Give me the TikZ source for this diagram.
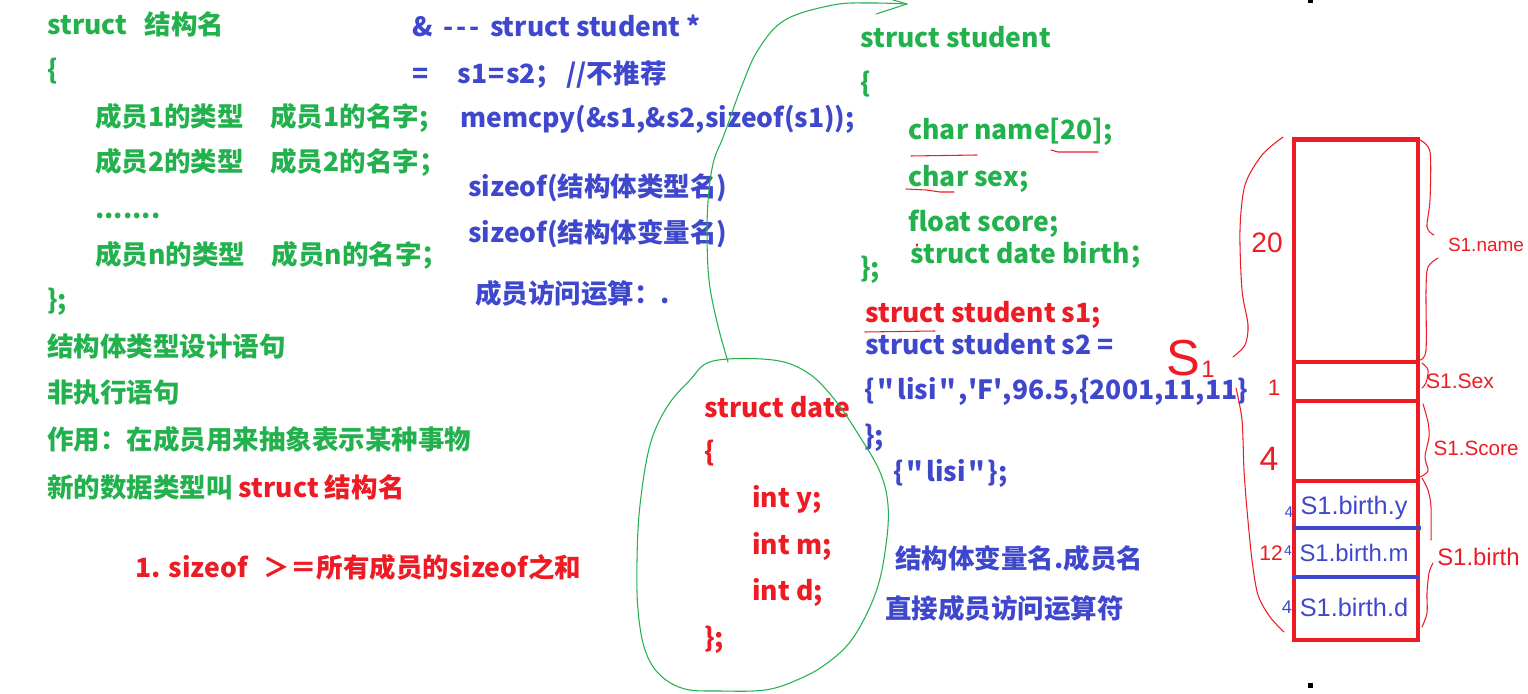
\documentclass[tikz,border=0pt]{standalone}
\usepackage{fontspec}
\setmainfont{Noto Sans CJK SC}
\newfontfamily\hand{Liberation Sans}
\definecolor{cg}{RGB}{34,177,76}
\definecolor{cb}{RGB}{63,72,204}
\definecolor{cr}{RGB}{237,28,36}
\tikzset{
  txt/.style={anchor=base west, inner sep=0pt, font=\bfseries\fontsize{18.85pt}{22pt}\selectfont},
  gr/.style={txt, text=cg},
  bl/.style={txt, text=cb},
  rd/.style={txt, text=cr},
  hw/.style={inner sep=0pt, font=\hand\fontsize{#1}{#1}\selectfont},
  pen/.style={line width=0.75pt, line cap=round, line join=round},
  redbox/.style={line width=3.2pt, draw=cr},
  bluebar/.style={line width=3.2pt, draw=cb}
}
\newcommand{\qq}{\kern2pt\textquotedbl\kern2pt}
\begin{document}
\begin{tikzpicture}[x=0.025cm, y=-0.025cm]
\useasboundingbox (0,0) rectangle (1528,694);
% ---------- left column ----------
\node[gr] (a1) at (47,35) {struct\hspace{0.65em}结构名};
\node[gr] (a2) at (47,80) {\{};
\node[gr] (a3) at (95,127) {成员1的类型\hspace{1em}成员1的名字;};
\node[gr] (a4) at (95,172) {成员2的类型\hspace{1em}成员2的名字；};
\node[gr] (a5) at (95,219) {.......};
\node[gr] (a6) at (95,265) {成员n的类型\hspace{1em}成员n的名字；};
\node[gr] (a7) at (47,310) {\};};
\node[gr] (a8) at (47,357) {结构体类型设计语句};
\node[gr] (a9) at (47,403) {非执行语句};
\node[gr] (a10) at (47,450) {作用：在成员用来抽象表示某种事物};
\node[gr] (a11) at (47,498) {新的数据类型叫 \textcolor{cr}{struct 结构名}};
\node[rd] (a12) at (135,578) {1. sizeof\hspace{0.6em}＞＝所有成员的sizeof之和};
% ---------- middle column ----------
\node[bl] (b1) at (412,37) {\&\hspace{0.4em}-\kern2pt-\kern2pt-\hspace{0.4em}struct student *};
\node[bl] (b2) at (412,84) {=\hspace{1.1em}s1\kern1pt=\kern1pt s2；\kern3pt//不推荐};
\node[bl] (b3) at (460,128) {memcpy(\&s1,\&s2,sizeof(s1));};
\node[bl] (b4) at (468,197) {sizeof(结构体类型名)};
\node[bl] (b5) at (468,243) {sizeof(结构体变量名)};
\node[bl] (b6) at (475,304) {成员访问运算：.};
% ---------- struct student ----------
\node[gr] (c1) at (860,48) {struct student};
\node[gr] (c2) at (860,93) {\{};
\node[gr] (c3) at (908,140) {char name[20];};
\node[gr] (c4) at (908,187) {char sex;};
\node[gr] (c5) at (908,232) {float score;};
\node[gr] (c6) at (910,264) {struct date birth；};
\node[gr] (c7) at (860,278) {\};};
\node[rd] (d1) at (865,323) {struct student s1;};
\node[bl] (d2) at (865,355) {struct student s2 =};
\node[bl, text height=14pt] (d3) at (864,400) {\{\qq lisi\qq,\textquotesingle F\textquotesingle,96.5,\{2001,11,11\}};
\node[bl] (d4) at (864,446) {\};};
\node[bl] (d5) at (893,482) {\{\qq lisi\qq\};};
\node[bl] (d6) at (895,569) {结构体变量名.成员名};
\node[bl] (d7) at (885,619) {直接成员访问运算符};
% ---------- struct date (circled) ----------
\node[rd] (e1) at (704,418) {struct date};
\node[rd] (e2) at (704,462) {\{};
\node[rd] (e3) at (752,508) {int y;};
\node[rd] (e4) at (752,555) {int m;};
\node[rd] (e5) at (752,601) {int d;};
\node[rd] (e6) at (704,647) {\};};
% green circle and link
\draw[pen, cg] plot[smooth cycle, tension=0.6] coordinates {(713,361) (773,360) (808,373) (835,400) (860,437) (880,472) (888,505) (886,545) (876,592) (853,638) (826,664) (797,680) (765,690) (720,691) (685,689) (660,675) (645,650) (638,610) (637,560) (640,505) (650,445) (667,407) (690,380)};
\coordinate (cs) at (728,362);
\coordinate (ce) at (907,4);
\draw[pen, cg] plot[smooth, tension=0.6] coordinates {(cs) (717,322) (709,280) (707,230) (709,190) (714,160) (724,135) (741,88) (758,50) (785,20) (833,5) (870,3) (ce)};
\draw[pen, cg] (893,0) -- (ce) -- (876,14);
% red underlines
\draw[pen, cr] (865,332) -- (935,331);
\draw[pen, cr] (911,156) -- (977,155);
\draw[pen, cr] (1051,150) -- (1058,152) -- (1098,152);
\draw[pen, cr] (906,189) -- (926,190) -- (940,192) -- (954,192);
\draw[pen, cr] (917,244) -- (917,246);
% ---------- memory layout ----------
\draw[redbox] (1294,139.5) rectangle (1418,640);
\draw[redbox] (1294,362) -- (1418,362);
\draw[redbox] (1294,401) -- (1416,401);
\draw[redbox] (1294,481) -- (1418,481);
\draw[bluebar] (1293,528) -- (1421,528);
\draw[bluebar] (1292,577) -- (1419,577);
% braces
\draw[pen, cr] plot[smooth] coordinates {(1283,137) (1262,155) (1245,185) (1240,230) (1242,290) (1248,325) (1245,345) (1233,357)};
\draw[pen, cr] plot[smooth] coordinates {(1236,388) (1242,420) (1244,470) (1247,510) (1252,560) (1258,595) (1270,617) (1284,632)};
\draw[pen, cr] plot[smooth] coordinates {(1420,140) (1430,152) (1430,200) (1427,227) (1434,235)};
\draw[pen, cr] plot[smooth] coordinates {(1438,258) (1428,267) (1426,290) (1426,350) (1420,360)};
\draw[pen, cr] plot[smooth] coordinates {(1422,363) (1428,370) (1426,383) (1422,388)};
\draw[pen, cr] plot[smooth] coordinates {(1423,404) (1428,422) (1429,437) (1425,457) (1428,471) (1420,477)};
\draw[pen, cr] plot[smooth] coordinates {(1422,478) (1428,490) (1431,507) (1431,540)};
\draw[pen, cr] plot[smooth] coordinates {(1433,563) (1429,573) (1427,593) (1427,613) (1422,627)};
% handwritten labels
\node[hw=13.5pt, text=cr] (h1) at (1486,245) {S1.name};
\node[hw=15pt, text=cr] (h2) at (1460,381) {S1.Sex};
\node[hw=14.7pt, text=cr] (h3) at (1476,448) {S1.Score};
\node[hw=17pt, text=cr, anchor=west] (h4) at (1437,557) {S1.birth};
\node[hw=18pt, text=cb] (h5) at (1354,508) {S1.birth.y};
\node[hw=17pt, text=cb] (h6) at (1354,553) {S1.birth.m};
\node[hw=18pt, text=cb] (h7) at (1354,607) {S1.birth.d};
\node[hw=20pt, text=cr] (n20) at (1267,243) {20};
\node[hw=16pt, text=cr] (n1) at (1274,388) {1};
\node[hw=24pt, text=cr] (n4) at (1269,459) {4};
\node[hw=11pt, text=cb] (m4a) at (1289,512) {4};
\node[hw=15pt, text=cr] (n12) at (1271,553) {12};
\node[hw=10pt, text=cb] (m4b) at (1288,551) {4};
\node[hw=13pt, text=cb] (m4c) at (1287,607) {4};
\node[hw=36pt, text=cr, anchor=base, text depth=0pt] (bigS) at (1183,376) {S};
\node[hw=17pt, text=cr, anchor=base, text depth=0pt] (big1) at (1208,378) {1};
% black dots
\fill (1308,0) rectangle (1313,3);
\fill (1308,683) rectangle (1313,688);
\end{tikzpicture}
\end{document}
